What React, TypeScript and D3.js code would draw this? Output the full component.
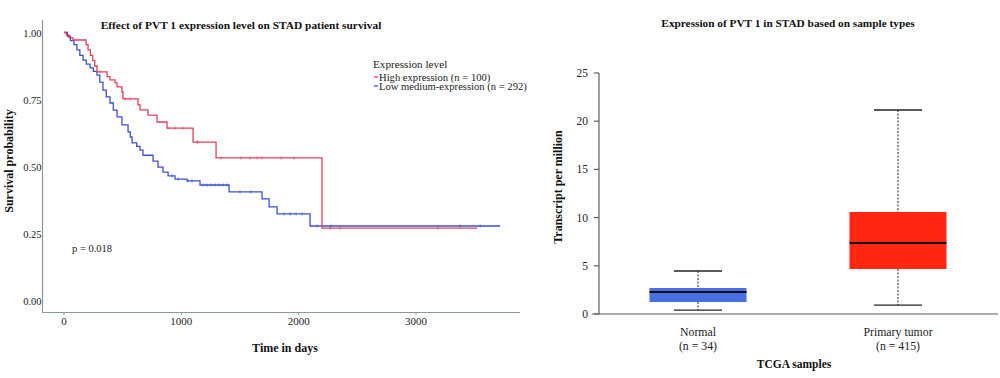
import React from "react";
import * as d3 from "d3";

// ---------- Kaplan-Meier data (time in days, survival probability) ----------
const highTimes = [0, 20, 45, 77, 188, 205, 225, 245, 262, 281, 367, 392, 435, 452, 494, 503, 631, 648, 716, 793, 878, 1100, 1296, 2199, 3521];
const highSurv = [1, 0.99, 0.98, 0.972, 0.955, 0.935, 0.915, 0.895, 0.875, 0.853, 0.835, 0.823, 0.812, 0.797, 0.778, 0.752, 0.73, 0.711, 0.692, 0.666, 0.643, 0.591, 0.532, 0.27, 0.27];
const highCensor = [307, 520, 563, 887, 946, 1014, 1134, 1142, 1338, 1509, 1586, 1645, 1688, 1850, 1961, 2268, 2353, 3188];

const lowTimes = [0, 30, 55, 85, 110, 135, 162, 190, 222, 250, 281, 305, 332, 360, 392, 420, 452, 494, 546, 565, 580, 620, 648, 673, 759, 801, 844, 887, 946, 1049, 1159, 1407, 1688, 1748, 1816, 2097, 3717];
const lowSurv = [1, 0.985, 0.97, 0.955, 0.935, 0.915, 0.897, 0.882, 0.868, 0.855, 0.841, 0.815, 0.785, 0.76, 0.737, 0.71, 0.685, 0.655, 0.629, 0.61, 0.588, 0.575, 0.561, 0.542, 0.52, 0.498, 0.479, 0.465, 0.453, 0.446, 0.431, 0.405, 0.379, 0.349, 0.323, 0.278, 0.278];
const lowCensor = [921, 972, 1057, 1091, 1185, 1219, 1253, 1287, 1321, 1355, 1390, 1500, 1594, 1876, 1927, 1978, 2029, 2157, 2276, 3376, 3546];

const kmXTicks = [0, 1000, 2000, 3000];
const kmYTicks = [0, 0.25, 0.5, 0.75, 1];
const legendLabels = ["High expression (n = 100)", "Low medium-expression (n = 292)"];

// ---------- Box plot data (TPM) ----------
const boxCategories = ["Normal", "Primary tumor"];
const boxCounts = ["(n = 34)", "(n = 415)"];
const boxMin = [0.41, 0.93];
const boxQ1 = [1.24, 4.67];
const boxMedian = [2.28, 7.37];
const boxQ3 = [2.7, 10.58];
const boxMax = [4.46, 21.16];
const boxYTicks = [0, 5, 10, 15, 20, 25];

const RED = "#e4405c";
const BLUE = "#3b4fd3";
const FONT = "'Liberation Serif', 'DejaVu Serif', serif";

function survAt(times: number[], surv: number[], t: number) {
  let v = surv[0];
  for (let i = 0; i < times.length; i++) if (times[i] <= t) v = surv[i];
  return v;
}

export default function App() {
  // KM scales
  const x = d3.scaleLinear().domain([0, 3000]).range([64, 416]);
  const y = d3.scaleLinear().domain([0, 1]).range([300.5, 32.5]);
  const line = d3
    .line<[number, number]>()
    .x((d) => x(d[0]))
    .y((d) => y(d[1]))
    .curve(d3.curveStepAfter);
  const highPts = highTimes.map((t, i) => [t, highSurv[i]] as [number, number]);
  const lowPts = lowTimes.map((t, i) => [t, lowSurv[i]] as [number, number]);

  // Box scales
  const bx = d3.scalePoint<string>().domain(boxCategories).range([598, 998]).padding(0.5);
  const by = d3.scaleLinear().domain([0, 25]).range([314, 73]);
  const boxW = 97;
  const capW = 48;
  const boxColors = ["#4670e4", "#ff2612"];

  const axisGray = "#8c9797";
  const axisDark = "#5a6060";

  return (
    <svg width={1000} height={378} style={{ position: "absolute", left: 0, top: 0, background: "#fff" }} fontFamily={FONT}>
      {/* ================= LEFT: KM plot ================= */}
      <text x={241} y={29} textAnchor="middle" fontSize={11.4} fontWeight="bold" fill="#111">
        Effect of PVT 1 expression level on STAD patient survival
      </text>
      {/* axes */}
      <line x1={42.5} x2={42.5} y1={20} y2={312.5} stroke={axisGray} strokeWidth={1.2} />
      <line x1={42} x2={520} y1={312.5} y2={312.5} stroke={axisGray} strokeWidth={1.2} />
      {kmXTicks.map((t) => (
        <g key={t}>
          <line x1={x(t)} x2={x(t)} y1={312.5} y2={315} stroke={axisGray} />
          <text x={x(t)} y={324.5} textAnchor="middle" fontSize={11} fill="#222">
            {t}
          </text>
        </g>
      ))}
      {kmYTicks.map((v) => (
        <text key={v} x={41.5} y={y(v) + 4} textAnchor="end" fontSize={10.5} fill="#222">
          {v.toFixed(2)}
        </text>
      ))}
      <text x={285} y={352} textAnchor="middle" fontSize={12} fontWeight="bold" fill="#111">
        Time in days
      </text>
      <text
        transform={`translate(12.5,161) rotate(-90)`}
        textAnchor="middle"
        fontSize={12}
        fontWeight="bold"
        fill="#111"
      >
        Survival probability
      </text>
      <text x={72} y={251.5} fontSize={10.5} fill="#222">
        p = 0.018
      </text>
      {/* curves */}
      <path d={line(lowPts) || ""} fill="none" stroke={BLUE} strokeWidth={1.3} />
      <path d={line(highPts) || ""} fill="none" stroke={RED} strokeWidth={1.3} />
      {lowCensor.map((c, i) => (
        <line key={"lc" + i} x1={x(c)} x2={x(c)} y1={y(survAt(lowTimes, lowSurv, c)) - 1.5} y2={y(survAt(lowTimes, lowSurv, c)) + 1.5} stroke={BLUE} strokeWidth={0.8} />
      ))}
      {highCensor.map((c, i) => (
        <line key={"hc" + i} x1={x(c)} x2={x(c)} y1={y(survAt(highTimes, highSurv, c)) - 1.5} y2={y(survAt(highTimes, highSurv, c)) + 1.5} stroke={RED} strokeWidth={0.8} />
      ))}
      {/* legend */}
      <text x={373} y={67.5} fontSize={11.2} fill="#222">
        Expression level
      </text>
      {legendLabels.map((l, i) => (
        <g key={l}>
          <line x1={374} x2={378} y1={77 + i * 9} y2={77 + i * 9} stroke={i === 0 ? RED : BLUE} strokeWidth={1.3} />
          <text x={379} y={80.5 + i * 9} fontSize={10.6} fill="#222">
            {l}
          </text>
        </g>
      ))}

      {/* ================= RIGHT: Box plot ================= */}
      <text x={788} y={27} textAnchor="middle" fontSize={11.3} fontWeight="bold" fill="#111">
        Expression of PVT 1 in STAD based on sample types
      </text>
      <line x1={599} x2={599} y1={73} y2={314} stroke={axisDark} strokeWidth={1.2} />
      <line x1={592} x2={998} y1={314} y2={314} stroke={axisDark} strokeWidth={1.2} />
      {boxYTicks.map((v) => (
        <g key={v}>
          <line x1={594} x2={599} y1={by(v)} y2={by(v)} stroke={axisDark} strokeWidth={1.2} />
          <text x={588} y={by(v) + 4} textAnchor="end" fontSize={11.5} fill="#222">
            {v}
          </text>
        </g>
      ))}
      <text
        transform={`translate(562,187) rotate(-90)`}
        textAnchor="middle"
        fontSize={12}
        fontWeight="bold"
        fill="#111"
      >
        Transcript per million
      </text>
      {boxCategories.map((c, i) => {
        const cx = bx(c) as number;
        return (
          <g key={c}>
            <line x1={cx} x2={cx} y1={by(boxMax[i])} y2={by(boxQ3[i])} stroke="#222" strokeDasharray="2,1.5" />
            <line x1={cx} x2={cx} y1={by(boxQ1[i])} y2={by(boxMin[i])} stroke="#222" strokeDasharray="2,1.5" />
            <line x1={cx - capW / 2} x2={cx + capW / 2} y1={by(boxMax[i])} y2={by(boxMax[i])} stroke="#222" strokeWidth={1.3} />
            <line x1={cx - capW / 2} x2={cx + capW / 2} y1={by(boxMin[i])} y2={by(boxMin[i])} stroke="#222" strokeWidth={1.3} />
            <rect x={cx - boxW / 2} y={by(boxQ3[i])} width={boxW} height={by(boxQ1[i]) - by(boxQ3[i])} fill={boxColors[i]} />
            <line x1={cx - boxW / 2} x2={cx + boxW / 2} y1={by(boxMedian[i])} y2={by(boxMedian[i])} stroke="#111" strokeWidth={2} />
            <text x={cx} y={336} textAnchor="middle" fontSize={11.8} fill="#222">
              {c}
            </text>
            <text x={cx} y={349.5} textAnchor="middle" fontSize={11.8} fill="#222">
              {boxCounts[i]}
            </text>
          </g>
        );
      })}
      <text x={794} y={368} textAnchor="middle" fontSize={11.5} fontWeight="bold" fill="#111">
        TCGA samples
      </text>
    </svg>
  );
}
